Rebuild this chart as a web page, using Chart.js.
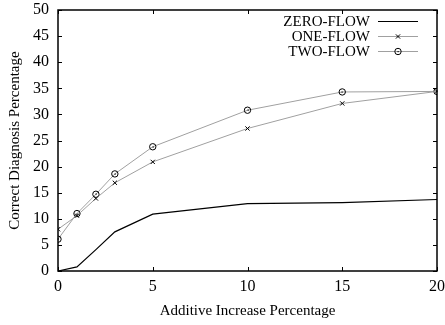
<!DOCTYPE html>
<html>
<head>
<meta charset="utf-8">
<script src="https://cdn.jsdelivr.net/npm/chart.js@4/dist/chart.umd.min.js"></script>
<style>
  html, body { margin: 0; padding: 0; background: #fff; }
  #c { display: block; }
</style>
</head>
<body>
<canvas id="c" width="445" height="325"></canvas>
<script>
// data
const increase = [0, 1, 2, 3, 5, 10, 15, 20];
const zeroFlow = [0, 0.8, 4.1, 7.5, 10.9, 12.9, 13.1, 13.7];
const oneFlow  = [8.0, 10.6, 13.9, 16.9, 20.9, 27.3, 32.1, 34.4];
const twoFlow  = [6.1, 11.0, 14.7, 18.6, 23.8, 30.8, 34.3, 34.4];
const xTicks = [0, 5, 10, 15, 20];
const yTicks = [0, 5, 10, 15, 20, 25, 30, 35, 40, 45, 50];

const serif = 'Liberation Serif';

function pts(ys) {
    return increase.map((x, i) => ({ x: x, y: ys[i] }));
}

// gnuplot style: inward ticks on all four sides + full frame
const frame = {
    id: 'frame',
    afterDraw(chart) {
        const ctx = chart.ctx;
        const a = chart.chartArea;
        const xs = chart.scales.x, ys = chart.scales.y;
        ctx.save();
        ctx.strokeStyle = '#000';
        ctx.lineWidth = 1;
        ctx.beginPath();
        xTicks.forEach(t => {
            const p = Math.round(xs.getPixelForValue(t)) + 0.5;
            ctx.moveTo(p, a.bottom); ctx.lineTo(p, a.bottom - 4);
            ctx.moveTo(p, a.top); ctx.lineTo(p, a.top + 4);
        });
        yTicks.forEach(t => {
            const p = Math.round(ys.getPixelForValue(t)) + 0.5;
            ctx.moveTo(a.left, p); ctx.lineTo(a.left + 4, p);
            ctx.moveTo(a.right, p); ctx.lineTo(a.right - 4, p);
        });
        ctx.stroke();
        ctx.lineWidth = 1.5;
        ctx.strokeRect(a.left, a.top, a.right - a.left, a.bottom - a.top);

        // legend: text right-aligned, sample line to its right
        ctx.font = '15px "' + serif + '"';
        ctx.textAlign = 'right';
        ctx.textBaseline = 'middle';
        chart.data.datasets.forEach((ds, i) => {
            const y = 21 + i * 15;
            ctx.fillStyle = '#000';
            ctx.fillText(ds.label, 370, y + 1);
            ctx.strokeStyle = ds.borderColor;
            ctx.lineWidth = ds.borderWidth;
            ctx.beginPath();
            ctx.moveTo(378, y + 0.5); ctx.lineTo(418, y + 0.5);
            ctx.stroke();
            if (ds.pointStyle) {
                ctx.strokeStyle = '#000';
                ctx.fillStyle = 'rgba(0,0,0,0)';
                Chart.helpers.drawPoint(ctx, {
                    pointStyle: ds.pointStyle,
                    radius: ds.pointRadius,
                    borderWidth: 1,
                    rotation: 0
                }, 398, y + 0.5);
                if (ds.pointStyle === 'circle') {
                    ctx.fillStyle = '#000';
                    ctx.fillRect(397.5, y, 1.2, 1.2);
                }
            }
        });
        ctx.restore();
    }
};

// small dot in the middle of the circle markers
const dots = {
    id: 'dots',
    afterDatasetsDraw(chart) {
        const ctx = chart.ctx;
        const meta = chart.getDatasetMeta(2);
        ctx.save();
        ctx.fillStyle = '#000';
        meta.data.forEach(p => {
            ctx.fillRect(Math.round(p.x) - 0.5, Math.round(p.y) - 0.5, 1.2, 1.2);
        });
        ctx.restore();
    }
};

new Chart(document.getElementById('c'), {
    type: 'line',
    data: {
        datasets: [{
            label: 'ZERO-FLOW',
            data: pts(zeroFlow),
            borderColor: '#000',
            borderWidth: 1.2,
            pointRadius: 0,
            pointStyle: false,
            tension: 0
        }, {
            label: 'ONE-FLOW',
            data: pts(oneFlow),
            borderColor: '#a0a0a0',
            borderWidth: 1,
            pointStyle: 'crossRot',
            pointRadius: 3,
            pointBorderColor: '#000',
            pointBorderWidth: 1,
            tension: 0
        }, {
            label: 'TWO-FLOW',
            data: pts(twoFlow),
            borderColor: '#a0a0a0',
            borderWidth: 1,
            pointStyle: 'circle',
            pointRadius: 3.2,
            pointBorderColor: '#000',
            pointBackgroundColor: 'rgba(0,0,0,0)',
            pointBorderWidth: 1,
            tension: 0
        }]
    },
    options: {
        responsive: false,
        animation: false,
        layout: { autoPadding: false, padding: 0 },
        plugins: {
            legend: { display: false },
            tooltip: { enabled: false }
        },
        scales: {
            x: {
                type: 'linear',
                min: 0, max: 20,
                afterBuildTicks: s => { s.ticks = xTicks.map(v => ({ value: v })); },
                afterFit: s => { s.height = 54; s.paddingLeft = 0; s.paddingRight = 8; },
                grid: { display: false, drawTicks: false },
                border: { display: false },
                ticks: { color: '#000', padding: 6, font: { family: serif, size: 16 } },
                title: {
                    display: true,
                    text: 'Additive Increase Percentage',
                    color: '#000',
                    font: { family: serif, size: 15 },
                    padding: { top: 0, bottom: 5 }
                }
            },
            y: {
                min: 0, max: 50,
                afterBuildTicks: s => { s.ticks = yTicks.map(v => ({ value: v })); },
                afterFit: s => { s.width = 58; s.paddingTop = 10; s.paddingBottom = 0; },
                grid: { display: false, drawTicks: false },
                border: { display: false },
                ticks: { color: '#000', padding: 9, font: { family: serif, size: 16 } },
                title: {
                    display: true,
                    text: 'Correct Diagnosis Percentage',
                    color: '#000',
                    font: { family: serif, size: 15 },
                    padding: { top: 6, bottom: 0 }
                }
            }
        }
    },
    plugins: [frame, dots]
});
</script>
</body>
</html>
